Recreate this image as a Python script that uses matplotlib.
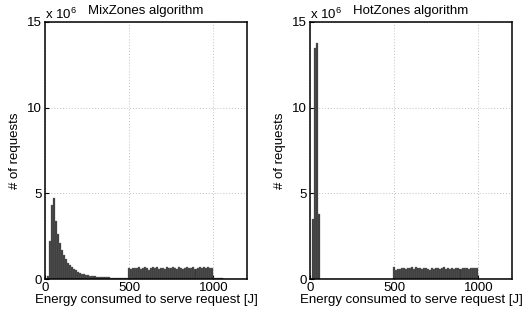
import numpy as np
import matplotlib
matplotlib.use("Agg")
import matplotlib.pyplot as plt

plt.rcParams['font.family'] = ['Liberation Sans', 'DejaVu Sans']
plt.rcParams['mathtext.fontset'] = 'custom'
plt.rcParams['mathtext.rm'] = 'Liberation Sans'
plt.rcParams['mathtext.it'] = 'Liberation Sans'

# histogram bins: 12 J wide, 0..1200 J
bin_width = 12
bin_centers = np.arange(6, 1200, 12)

# MixZones counts (x 10^6) per bin
mix_head = [0.0, 0.15, 2.2, 4.3, 4.7, 3.4, 2.6, 2.1, 1.7, 1.4,
            1.15, 0.95, 0.8, 0.68, 0.58, 0.5, 0.43, 0.37, 0.32, 0.28,
            0.25, 0.22, 0.2, 0.18, 0.16, 0.14, 0.13, 0.12, 0.11, 0.1,
            0.095, 0.09, 0.085, 0.08, 0.075, 0.07, 0.065, 0.06, 0.055, 0.05,
            0.05]
mix_plateau = [0.62, 0.58, 0.66, 0.64, 0.62, 0.68, 0.6, 0.66, 0.7, 0.64,
               0.55, 0.66, 0.68, 0.63, 0.7, 0.6, 0.66, 0.62, 0.58, 0.68,
               0.64, 0.62, 0.7, 0.66, 0.6, 0.68, 0.63, 0.57, 0.66, 0.7,
               0.62, 0.64, 0.68, 0.6, 0.66, 0.7, 0.63, 0.68, 0.65, 0.7,
               0.62, 0.66]
mix_tail = [0.05, 0.04, 0.035, 0.03, 0.03, 0.025, 0.025, 0.02, 0.02, 0.02,
            0.015, 0.015, 0.015, 0.01, 0.01, 0.01, 0.01]
mix_counts = mix_head + mix_plateau + mix_tail

# HotZones counts (x 10^6) per bin
hot_head = [0.0, 3.5, 13.5, 13.8, 3.8] + [0.0] * 36
hot_plateau = [0.68, 0.55, 0.6, 0.58, 0.62, 0.64, 0.6, 0.66, 0.62, 0.68,
               0.6, 0.7, 0.62, 0.66, 0.58, 0.64, 0.62, 0.6, 0.55, 0.62,
               0.6, 0.64, 0.66, 0.58, 0.62, 0.68, 0.6, 0.64, 0.6, 0.62,
               0.56, 0.62, 0.64, 0.6, 0.66, 0.62, 0.64, 0.6, 0.66, 0.62,
               0.64, 0.66]
hot_tail = [0.0] * 17
hot_counts = hot_head + hot_plateau + hot_tail

titles = ["MixZones algorithm", "HotZones algorithm"]
xlabel = "Energy consumed to serve request [J]"
ylabel = "# of requests"
xticks = [0, 500, 1000]
yticks = [0, 5, 10, 15]

fig = plt.figure(figsize=(5.30, 3.17), dpi=100)
W, H = 530, 317
boxes = [(45, 22, 247, 279), (310, 22, 512, 279)]

for (x0, y0, x1, y1), counts, title in zip(boxes, [mix_counts, hot_counts], titles):
    ax = fig.add_axes([x0 / W, 1 - y1 / H, (x1 - x0) / W, (y1 - y0) / H])
    ax.bar(bin_centers, counts, width=bin_width, color='#383838',
           edgecolor='#707070', linewidth=0.25, zorder=2)
    ax.set_xlim(0, 1200)
    ax.set_ylim(0, 15)
    ax.set_xticks(xticks)
    ax.set_yticks(yticks)
    ax.grid(True, color='#c0c0c0', linestyle=(0, (1, 2)), linewidth=0.7, zorder=0)
    ax.tick_params(direction='in', length=3, labelsize=9.5, pad=2.5, width=0.8)
    for s in ax.spines.values():
        s.set_linewidth(1.1)
    ax.set_title(title, fontsize=9.5, pad=6)
    ax.set_xlabel(xlabel, fontsize=9.5, labelpad=0)
    ax.set_ylabel(ylabel, fontsize=9.5, labelpad=4)
    ax.text(0.0, 1.0, r'x 10$^{6}$', transform=ax.transAxes, fontsize=9.5,
            ha='left', va='bottom')

fig.savefig("out.png", dpi=100)
